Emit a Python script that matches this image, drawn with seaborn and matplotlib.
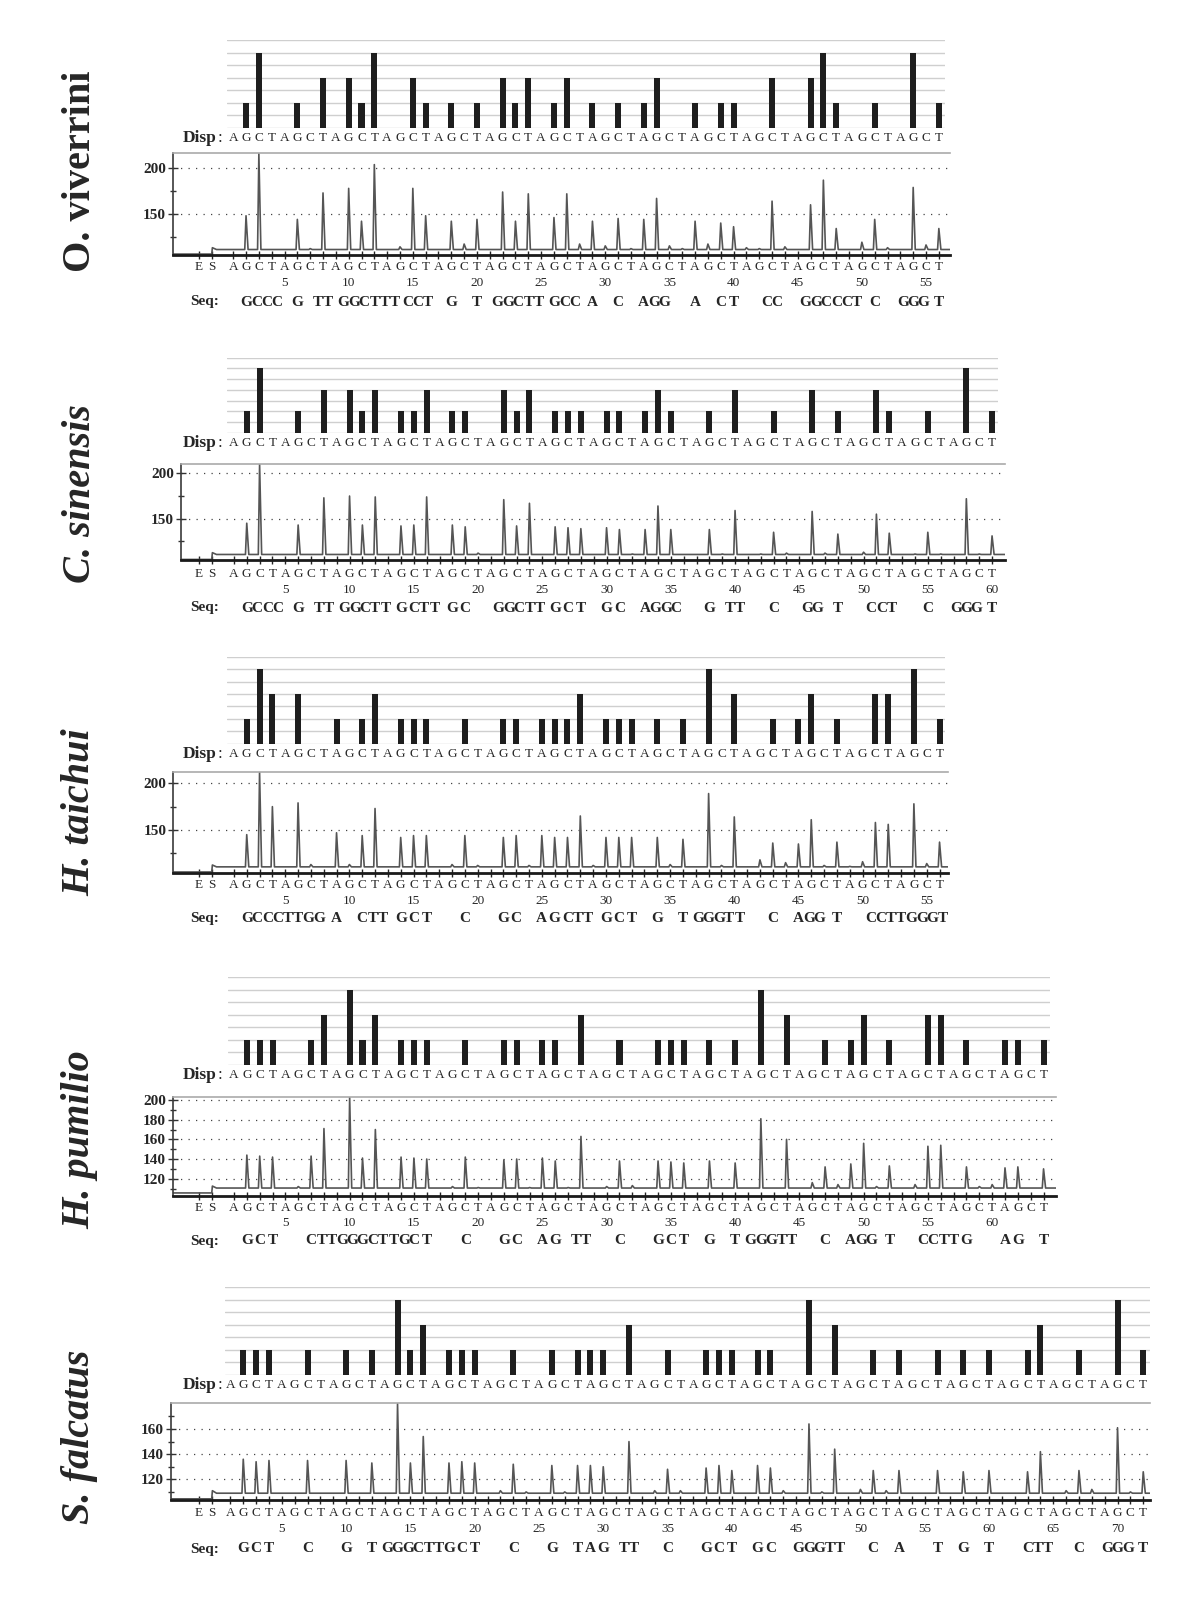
import numpy as np
import pandas as pd
import matplotlib
matplotlib.use("Agg")
import matplotlib.pyplot as plt
import matplotlib.transforms as mtransforms
import seaborn as sns

# Species shown (top to bottom)
species = ["O. viverrini", "C. sinensis", "H. taichui", "H. pumilio", "S. falcatus"]
species_italic = [False, True, True, True, True]

# dispensation order repeats A G C T
disp_unit = ["A", "G", "C", "T"]

# Expected histogram (number of bases incorporated per dispensation)
ov_bars = [0, 1, 3, 0, 0, 1, 0, 2, 0, 2, 1, 3, 0, 0, 2, 1, 0, 1, 0, 1, 0, 2, 1, 2, 0, 1, 2, 0,
           1, 0, 1, 0, 1, 2, 0, 0, 1, 0, 1, 1, 0, 0, 2, 0, 0, 2, 3, 1, 0, 0, 1, 0, 0, 3, 0, 1]
cs_bars = [0, 1, 3, 0, 0, 1, 0, 2, 0, 2, 1, 2, 0, 1, 1, 2, 0, 1, 1, 0, 0, 2, 1, 2, 0, 1, 1, 1,
           0, 1, 1, 0, 1, 2, 1, 0, 0, 1, 0, 2, 0, 0, 1, 0, 0, 2, 0, 1, 0, 0, 2, 1, 0, 0, 1, 0,
           0, 3, 0, 1]
ht_bars = [0, 1, 3, 2, 0, 2, 0, 0, 1, 0, 1, 2, 0, 1, 1, 1, 0, 0, 1, 0, 0, 1, 1, 0, 1, 1, 1, 2,
           0, 1, 1, 1, 0, 1, 0, 1, 0, 3, 0, 2, 0, 0, 1, 0, 1, 2, 0, 1, 0, 0, 2, 2, 0, 3, 0, 1]
hp_bars = [0, 1, 1, 1, 0, 0, 1, 2, 0, 3, 1, 2, 0, 1, 1, 1, 0, 0, 1, 0, 0, 1, 1, 0, 1, 1, 0, 2,
           0, 0, 1, 0, 0, 1, 1, 1, 0, 1, 0, 1, 0, 3, 0, 2, 0, 0, 1, 0, 1, 2, 0, 1, 0, 0, 2, 2,
           0, 1, 0, 0, 1, 1, 0, 1]
sf_bars = [0, 1, 1, 1, 0, 0, 1, 0, 0, 1, 0, 1, 0, 3, 1, 2, 0, 1, 1, 1, 0, 0, 1, 0, 0, 1, 0, 1,
           1, 1, 0, 2, 0, 0, 1, 0, 0, 1, 1, 1, 0, 1, 1, 0, 0, 3, 0, 2, 0, 0, 1, 0, 1, 0, 0, 1,
           0, 1, 0, 1, 0, 0, 1, 2, 0, 0, 1, 0, 0, 3, 0, 1]

# Pyrogram peak tops (signal units) per dispensation
ov_peaks = [110, 148, 216, 110, 110, 144, 112, 173, 110, 178, 142, 204, 110, 114, 178, 148,
            110, 142, 117, 144, 110, 174, 142, 172, 111, 146, 172, 117, 142, 115, 145, 112,
            144, 167, 115, 112, 142, 117, 140, 136, 113, 112, 164, 114, 110, 160, 187, 134,
            110, 119, 144, 113, 110, 179, 116, 134]
cs_peaks = [110, 145, 210, 110, 110, 143, 110, 173, 110, 175, 143, 174, 110, 142, 143, 174,
            110, 143, 141, 112, 110, 171, 142, 167, 110, 141, 140, 139, 110, 140, 138, 111,
            138, 164, 138, 110, 110, 138, 111, 159, 110, 111, 135, 112, 110, 158, 112, 133,
            110, 113, 155, 134, 110, 111, 135, 111, 110, 172, 111, 131]
ht_peaks = [110, 145, 212, 175, 110, 179, 113, 110, 147, 113, 144, 173, 110, 142, 144, 144,
            110, 113, 144, 112, 110, 142, 144, 112, 144, 142, 142, 165, 112, 142, 142, 142,
            110, 142, 113, 140, 110, 189, 112, 164, 110, 118, 136, 115, 135, 161, 112, 137,
            111, 116, 158, 156, 110, 178, 114, 137]
hp_peaks = [110, 144, 143, 142, 110, 112, 143, 171, 110, 203, 141, 170, 110, 142, 141, 140,
            110, 112, 142, 111, 110, 139, 140, 111, 141, 138, 111, 163, 110, 112, 138, 113,
            110, 138, 137, 136, 110, 138, 110, 136, 110, 181, 110, 160, 110, 116, 132, 114,
            135, 156, 112, 133, 110, 114, 153, 154, 110, 132, 112, 114, 131, 132, 110, 130]
sf_peaks = [109, 136, 134, 135, 109, 109, 135, 109, 109, 135, 109, 133, 109, 180, 133, 154,
            109, 133, 134, 133, 109, 111, 132, 110, 109, 131, 110, 131, 131, 130, 109, 150,
            109, 111, 128, 111, 109, 129, 131, 127, 109, 131, 129, 111, 109, 164, 110, 144,
            109, 112, 127, 111, 127, 109, 109, 127, 109, 126, 109, 127, 109, 109, 126, 142,
            109, 111, 127, 112, 109, 161, 110, 126]

bar_sets = [ov_bars, cs_bars, ht_bars, hp_bars, sf_bars]
peak_sets = [ov_peaks, cs_peaks, ht_peaks, hp_peaks, sf_peaks]

# signal level before / after substrate addition
base_before = [106, 105, 105, 105.5, 104.5]
base_after = [111, 110.5, 110.5, 110.5, 109]

# y axes of the pyrograms
y_limits = [(105, 216.4), (104.4, 210), (103.6, 212.4), (102.7, 203.4), (103.6, 180.4)]
y_major = [[150, 200], [150, 200], [150, 200], [120, 140, 160, 180, 200], [120, 140, 160]]
y_minor = [[125, 175], [125, 175], [125, 175], [110, 130, 150, 170, 190], [110, 130, 150, 170]]

# layout in pixels of the 1200x1609 picture
W, H = 1200, 1609
layout = [
    dict(pos1=233.2, sp=12.83, disp=(227, 945, 40, 127.7), pyro=(173, 950, 153.3, 255),
         disp_row=137.7, es_row=267, num_row=283.5, seq_row=302, sp_y=171),
    dict(pos1=233.9, sp=12.85, disp=(227, 998, 357.7, 433), pyro=(180.7, 1005, 464.3, 560),
         disp_row=443.3, es_row=574, num_row=590, seq_row=608, sp_y=494),
    dict(pos1=233.9, sp=12.83, disp=(227, 945, 656.7, 743.7), pyro=(173.3, 948, 771.7, 873.3),
         disp_row=754, es_row=885, num_row=900.5, seq_row=918.5, sp_y=812),
    dict(pos1=234.0, sp=12.85, disp=(228, 1050, 977.3, 1065), pyro=(172.7, 1056, 1096.7, 1195.7),
         disp_row=1075, es_row=1208, num_row=1223, seq_row=1241, sp_y=1140),
    dict(pos1=230.4, sp=12.857, disp=(225, 1150, 1287.3, 1375), pyro=(170.7, 1150, 1403.3, 1500),
         disp_row=1385, es_row=1512.5, num_row=1528.5, seq_row=1549, sp_y=1437),
]

sns.set_style("white")
plt.rcParams['font.family'] = ['Liberation Serif', 'DejaVu Serif']


def fx(px):
    return px / W


def fy(py):
    return 1 - py / H


fig = plt.figure(figsize=(12, 16.09), dpi=100)

for p in range(5):
    L = layout[p]
    bars = bar_sets[p]
    peaks = peak_sets[p]
    n = len(bars)
    pos = np.arange(1, n + 1)
    letters = [disp_unit[(i - 1) % 4] for i in pos]

    def to_d(px, L=L):
        return 1 + (px - L['pos1']) / L['sp']

    # ---- dispensation histogram
    dl, dr, dt, db = L['disp']
    axd = fig.add_axes([fx(dl), fy(db), (dr - dl) / W, (db - dt) / H])
    df_bars = pd.DataFrame({'pos': pos, 'h': bars})
    sns.barplot(data=df_bars, x='pos', y='h', native_scale=True, width=0.47, color='#1e1e1e',
                saturation=1, errorbar=None, linewidth=0, ax=axd)
    axd.set_xlim(to_d(dl), to_d(dr))
    axd.set_ylim(0, 3.5)
    axd.set_yticks(np.arange(0, 3.51, 0.5))
    axd.set_xticks([])
    axd.tick_params(left=False, labelleft=False, bottom=False, labelbottom=False)
    axd.grid(axis='y', color='#cfcfcf', lw=1)
    axd.grid(axis='x', visible=False)
    axd.set_axisbelow(True)
    for s in axd.spines.values():
        s.set_visible(False)
    axd.set_xlabel('')
    axd.set_ylabel('')

    trd = mtransforms.blended_transform_factory(axd.transData, fig.transFigure)
    for i, c in zip(pos, letters):
        axd.text(i, fy(L['disp_row']), c, transform=trd, ha='center', va='center', fontsize=9.5)
    fig.text(fx(217), fy(L['disp_row']), 'Disp', ha='right', va='center', fontsize=12.5,
             fontweight='bold')
    fig.text(fx(217.5), fy(L['disp_row']), ':', ha='left', va='center', fontsize=12.5)

    # ---- pyrogram
    pl, pr, pt, pb = L['pyro']
    axp = fig.add_axes([fx(pl), fy(pb), (pr - pl) / W, (pb - pt) / H])
    e_x, s_x = to_d(199), to_d(212)
    b0, b1 = base_before[p], base_after[p]
    xs = [to_d(pl), s_x - 0.02, s_x + 0.03, s_x + 0.35]
    ys = [b0, b0, b1 + 2, b1]
    for i, v in zip(pos, peaks):
        xs += [i - 0.1, i, i + 0.16]
        ys += [b1, max(v, b1), b1]
    xs.append(to_d(pr))
    ys.append(b1)
    trace = pd.DataFrame({'x': xs, 'y': ys})
    sns.lineplot(data=trace, x='x', y='y', estimator=None, sort=False, color='#555555',
                 lw=1.2, ax=axp)
    axp.set_xlim(to_d(pl), to_d(pr))
    axp.set_ylim(*y_limits[p])
    axp.set_xlabel('')
    axp.set_ylabel('')
    axp.set_yticks(y_major[p])
    axp.set_yticklabels([str(v) for v in y_major[p]], fontweight='bold', fontsize=11)
    axp.set_yticks(y_minor[p], minor=True)
    axp.tick_params(axis='y', which='major', direction='inout', length=7, width=1,
                    color='#333333', pad=1.5, left=True)
    axp.tick_params(axis='y', which='minor', direction='inout', length=5, width=1,
                    color='#333333', left=True)
    axp.grid(axis='y', which='major', color='#444444', lw=0.9, linestyle=(0, (1, 5)))
    axp.grid(axis='x', visible=False)
    axp.set_xticks([e_x, s_x] + list(pos))
    axp.tick_params(axis='x', direction='inout', length=6, width=1, color='#222222',
                    labelbottom=False, bottom=True)
    axp.spines['top'].set_color('#aaaaaa')
    axp.spines['top'].set_linewidth(1.2)
    axp.spines['right'].set_visible(False)
    axp.spines['left'].set_color('#3a3a3a')
    axp.spines['left'].set_linewidth(1.2)
    axp.spines['bottom'].set_color('#1a1a1a')
    axp.spines['bottom'].set_linewidth(2)

    trp = mtransforms.blended_transform_factory(axp.transData, fig.transFigure)
    for xv, c in zip([e_x, s_x] + list(pos), ['E', 'S'] + letters):
        axp.text(xv, fy(L['es_row']), c, transform=trp, ha='center', va='center', fontsize=9.5)
    for k in range(5, n + 1, 5):
        axp.text(k, fy(L['num_row']), str(k), transform=trp, ha='center', va='center',
                 fontsize=9.5)

    # sequence written under the dispensations that incorporated
    pitch = 10.3 / L['sp']
    cursor = -1e9
    for i, h, c in zip(pos, bars, letters):
        if h == 0:
            continue
        width = h * pitch
        start = max(i - width / 2, cursor)
        for k in range(h):
            axp.text(start + (k + 0.5) * pitch, fy(L['seq_row']), c, transform=trp,
                     ha='center', va='center', fontsize=11, fontweight='bold')
        cursor = start + width
    fig.text(fx(190), fy(L['seq_row']), 'Seq:', ha='left', va='center', fontsize=11,
             fontweight='bold')

    # species name
    fig.text(fx(80), fy(L['sp_y']), species[p], rotation=90, ha='center', va='center',
             fontsize=29, fontweight='bold',
             fontstyle='italic' if species_italic[p] else 'normal')

fig.savefig('out.png', dpi=100)
